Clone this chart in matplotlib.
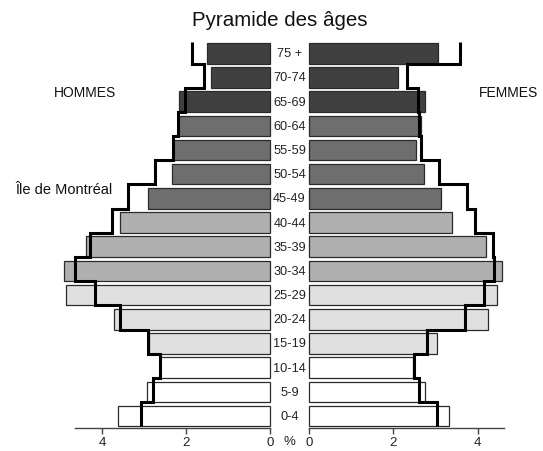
import numpy as np
import matplotlib
matplotlib.use('Agg')
import matplotlib.pyplot as plt
import matplotlib.transforms as mtransforms

ages = ['0-4', '5-9', '10-14', '15-19', '20-24', '25-29', '30-34', '35-39',
        '40-44', '45-49', '50-54', '55-59', '60-64', '65-69', '70-74', '75 +']
men = [3.62, 2.92, 2.63, 2.88, 3.71, 4.85, 4.90, 4.39,
       3.56, 2.90, 2.33, 2.31, 2.19, 2.17, 1.40, 1.51]
women = [3.32, 2.76, 2.46, 3.03, 4.25, 4.46, 4.58, 4.20,
         3.40, 3.14, 2.72, 2.54, 2.65, 2.76, 2.11, 3.07]
men_mtl = [3.07, 2.79, 2.63, 2.90, 3.56, 4.17, 4.63, 4.29,
           3.75, 3.38, 2.75, 2.32, 2.19, 2.03, 1.58, 1.87]
women_mtl = [3.03, 2.62, 2.49, 2.80, 3.71, 4.15, 4.38, 4.36,
             3.94, 3.74, 3.08, 2.66, 2.62, 2.58, 2.32, 3.59]

fills = ['white'] * 3 + ['#e0e0e0'] * 3 + ['#b0b0b0'] * 3 + ['#6e6e6e'] * 4 + ['#404040'] * 3

plt.rcParams['font.family'] = ['Liberation Sans', 'DejaVu Sans']

W, H = 543, 452
fig = plt.figure(figsize=(W / 100, H / 100), dpi=100)

ax_l = fig.add_axes([75 / W, 23.3 / H, 195.3 / W, 386.5 / H])
ax_r = fig.add_axes([309 / W, 23.3 / H, 194.7 / W, 386.5 / H])

y = np.arange(len(ages))
edges = np.r_[-0.43, np.arange(1, len(ages)) - 0.425, 15.47]

for ax, vals, mtl in [(ax_l, men, men_mtl), (ax_r, women, women_mtl)]:
    bars = ax.barh(y, vals, height=0.85, color=fills, edgecolor='#2a2a2a', linewidth=0.9)
    for b in bars:
        b.set_clip_on(False)
    st = ax.stairs(mtl, edges, orientation='horizontal', baseline=None,
                   color='black', linewidth=2.2, zorder=3)
    st.set_clip_on(False)
    ax.set_ylim(-0.484, 15.5)
    ax.set_yticks([])
    for s in ['top', 'left', 'right']:
        ax.spines[s].set_visible(False)
    ax.spines['bottom'].set_color('#444444')
    ax.spines['bottom'].set_linewidth(1.0)
    ax.set_xticks([0, 2, 4])
    ax.tick_params(axis='x', length=4, width=1, color='#444444', pad=2,
                   labelsize=9.5, labelcolor='#222222')

ax_l.set_xlim(4.64, 0)
ax_r.set_xlim(0, 4.62)

trans = mtransforms.blended_transform_factory(fig.transFigure, ax_r.transData)
for yi, lab in zip(y, ages):
    ax_r.text(289.5 / W, yi, lab, transform=trans, ha='center', va='center',
              fontsize=9.2, color='#222222')

fig.text(289.5 / W, 1 - 442 / H, '%', ha='center', va='center', fontsize=9.5,
         color='#222222')
fig.text(280 / W, 1 - 20 / H, 'Pyramide des âges', ha='center', va='center',
         fontsize=14.8, color='#111111')
fig.text(85 / W, 1 - 93 / H, 'HOMMES', ha='center', va='center', fontsize=10,
         color='#111111')
fig.text(508 / W, 1 - 93 / H, 'FEMMES', ha='center', va='center', fontsize=10,
         color='#111111')
fig.text(64 / W, 1 - 190 / H, 'Île de Montréal', ha='center', va='center',
         fontsize=10.5, color='#111111')

fig.savefig('out.png', dpi=100)
